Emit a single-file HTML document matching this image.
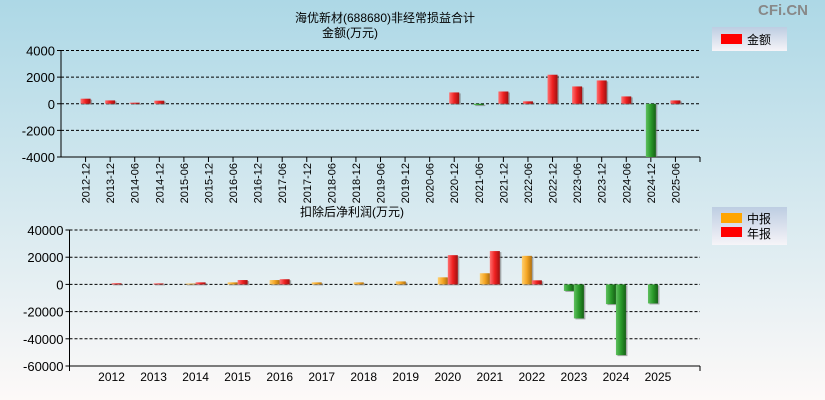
<!DOCTYPE html>
<html><head><meta charset="utf-8"><style>
body{margin:0;padding:0;}
svg{display:block;font-family:"Liberation Sans","Noto Sans CJK SC",sans-serif;}
</style></head><body>
<svg id="c" width="825" height="400" xmlns="http://www.w3.org/2000/svg">
<defs>
<linearGradient id="bg" x1="0" y1="0" x2="0" y2="1"><stop offset="0" stop-color="#add8e6"/><stop offset="1" stop-color="#fdf9f8"/></linearGradient>
<linearGradient id="lg" x1="0" y1="0" x2="0" y2="1"><stop offset="0" stop-color="#bdcde2"/><stop offset="1" stop-color="#f6f4f8"/></linearGradient>
<linearGradient id="gr" x1="0" y1="0" x2="1" y2="0"><stop offset="0" stop-color="#ff7070"/><stop offset="0.5" stop-color="#ee2020"/><stop offset="1" stop-color="#a01010"/></linearGradient>
<linearGradient id="go" x1="0" y1="0" x2="1" y2="0"><stop offset="0" stop-color="#ffd070"/><stop offset="0.5" stop-color="#f5a623"/><stop offset="1" stop-color="#b07010"/></linearGradient>
<linearGradient id="gg" x1="0" y1="0" x2="1" y2="0"><stop offset="0" stop-color="#60c060"/><stop offset="0.5" stop-color="#2a9a2a"/><stop offset="1" stop-color="#156015"/></linearGradient>
</defs>
<rect width="825" height="400" fill="url(#bg)"/>
<text x="808" y="15" font-size="15" fill="#888" text-anchor="end" font-weight="bold">CFi.CN</text>
<text x="385" y="22" font-size="12" text-anchor="middle">海优新材(688680)非经常损益合计</text>
<text x="322" y="37" font-size="12">金额(万元)</text>
<g><rect x="712" y="27" width="75" height="24" fill="url(#lg)"/><rect x="721" y="34" width="21" height="10" fill="#f00"/><text x="747" y="44" font-size="12">金额</text></g>
<text x="300" y="216" font-size="12">扣除后净利润(万元)</text>
<g><rect x="712" y="207" width="75" height="38" fill="url(#lg)"/><rect x="721" y="213" width="21" height="10" fill="#ffa500"/><text x="747" y="223" font-size="12">中报</text><rect x="721" y="227" width="21" height="10" fill="#f00"/><text x="747" y="238" font-size="12">年报</text></g>
<g id="top"></g><g id="bot"></g>
</svg>
<script>
const topCats=["2012-12","2013-12","2014-06","2014-12","2015-06","2015-12","2016-06","2016-12","2017-06","2017-12","2018-06","2018-12","2019-06","2019-12","2020-06","2020-12","2021-06","2021-12","2022-06","2022-12","2023-06","2023-12","2024-06","2024-12","2025-06"];
const topVals=[380,250,80,230,0,0,0,0,0,0,0,0,0,0,0,850,-100,920,180,2180,1300,1750,550,-4000,250];
const topTicks=[4000,2000,0,-2000,-4000];
const botYears=["2012","2013","2014","2015","2016","2017","2018","2019","2020","2021","2022","2023","2024","2025"];
const botMid=[0,0,600,1500,3200,1500,1500,2200,5200,8200,21000,-4800,-14500,-14000];
const botAnnual=[800,700,1500,3200,3800,null,null,null,21500,24500,3000,-25000,-52000,null];
const botTicks=[40000,20000,0,-20000,-40000,-60000];
const NS="http://www.w3.org/2000/svg";
function mk(p,t,a){const e=document.createElementNS(NS,t);for(const k in a)e.setAttribute(k,a[k]);p.appendChild(e);return e;}
function axis(g,x0,x1,yTop,yBot,vmax,vmin,ticks,name){
  const y=v=>yTop+(vmax-v)/(vmax-vmin)*(yBot-yTop);
  ticks.forEach(t=>{
    const l=mk(g,'line',{x1:x0,x2:x1,y1:y(t),y2:y(t),stroke:'#000','stroke-dasharray':'3,2','stroke-width':1});
    
    
    mk(g,'line',{x1:x0-4,x2:x0,y1:y(t),y2:y(t),stroke:'#000'});
    const tx=mk(g,'text',{x:x0-6,y:y(t)+5,'font-size':13,'text-anchor':'end'});tx.textContent=t;
    
    
  });
  mk(g,'line',{x1:x0,x2:x0,y1:yTop,y2:yBot,stroke:'#000'});
  mk(g,'line',{x1:x0,x2:x1,y1:yBot,y2:yBot,stroke:'#000'});
  return y;
}
function bar(g,x,w,y0,y1,fill,name){
  const top=Math.min(y0,y1),h=Math.max(Math.abs(y1-y0),0.8);
  mk(g,'rect',{x:x+1.5,y:top+1,width:w,height:h,fill:'#777',opacity:0.6});
  const r=mk(g,'rect',{x:x,y:top,width:w,height:h,fill:fill});
  
  
}
// top chart
const gt=document.getElementById('top');
const tx0=61,tx1=700,ty0=50.5,ty1=157;
const yt=axis(gt,tx0,tx1,ty0,ty1,4000,-4000,topTicks,'top');
const ts=(tx1-tx0)/(topCats.length+1);
mk(gt,'line',{x1:tx1,x2:tx1,y1:ty1,y2:ty1+5,stroke:'#000'});
topCats.forEach((c,i)=>{
  const cx=tx0+(i+1)*ts;
  mk(gt,'line',{x1:cx,x2:cx,y1:ty1,y2:ty1+5,stroke:'#000'});
  const t=mk(gt,'text',{x:0,y:0,'font-size':11,'text-anchor':'end',transform:`translate(${cx+4},163) rotate(-90)`});t.textContent=c;
  
  
  const v=topVals[i];
  if(v!==0){const vv=Math.max(v,-4000);bar(gt,cx-5,10,yt(0),yt(vv),v>=0?'url(#gr)':'url(#gg)','top-bar-'+c);}
});
// bottom chart
const gb=document.getElementById('bot');
const bx0=69.5,bx1=700,by0=230,by1=366;
const yb=axis(gb,bx0,bx1,by0,by1,40000,-60000,botTicks,'bottom');
const bs=(bx1-bx0)/(botYears.length+1);
mk(gb,'line',{x1:bx0,x2:bx0,y1:by1,y2:by1+5,stroke:'#000'});
mk(gb,'line',{x1:bx1,x2:bx1,y1:by1,y2:by1+5,stroke:'#000'});
botYears.forEach((yr,i)=>{
  const cx=bx0+(i+1)*bs;
  const t=mk(gb,'text',{x:cx,y:381,'font-size':12,'text-anchor':'middle'});t.textContent=yr;
  
  
  const m=botMid[i],a=botAnnual[i];
  if(m)bar(gb,cx-10,10,yb(0),yb(m),m>=0?'url(#go)':'url(#gg)','mid-bar-'+yr);
  if(a!==null&&a)bar(gb,cx,10,yb(0),yb(a),a>=0?'url(#gr)':'url(#gg)','annual-bar-'+yr);
});
</script>
</body></html>
